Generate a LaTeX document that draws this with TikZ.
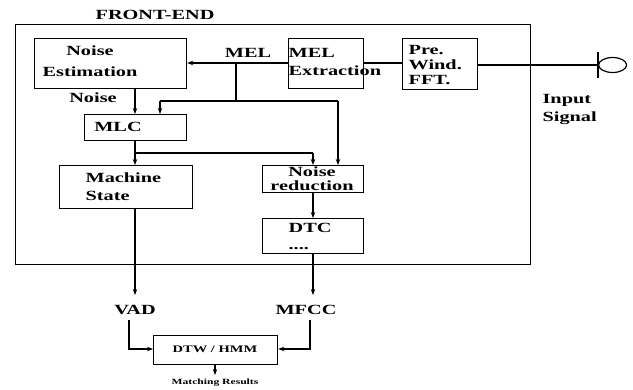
\documentclass[tikz,border=0pt]{standalone}
\usepackage{fontspec}
\setmainfont{Liberation Serif}[FakeStretch=1.45]
\usetikzlibrary{arrows.meta,shapes.geometric}
\begin{document}
\begin{tikzpicture}[x=1pt,y=-1pt,
  line width=1.2pt,
  box/.style={draw,line width=1.2pt,inner sep=0pt,anchor=north west},
  lbl/.style={inner sep=0pt,font=\bfseries\fontsize{14}{18}\selectfont},
  arr/.style={-{Stealth[length=6pt,width=4.5pt]}}]
\useasboundingbox (0,0) rectangle (633,390);
% frame
\node[box,minimum width=515pt,minimum height=240pt] (frame) at (15,24) {};
\node[lbl] (title) at (155,15) {FRONT-END};
% boxes
\node[box,minimum width=152pt,minimum height=50pt] (ne) at (34,38) {};
\node[lbl,align=center,font=\bfseries\fontsize{14}{21}\selectfont] (netext) at (90,61) {Noise\\Estimation};
\node[box,minimum width=75pt,minimum height=50pt] (mel) at (288,38) {};
\node[lbl,align=left,anchor=west] (meltext) at (288,62) {MEL\\Extraction};
\node[box,minimum width=75pt,minimum height=51pt] (pre) at (402,38) {};
\node[lbl,align=left,anchor=west,font=\bfseries\fontsize{14}{15}\selectfont] (pretext) at (408,65) {Pre.\\Wind.\\FFT.};
\node[box,minimum width=102pt,minimum height=26pt] (mlc) at (84,114) {};
\node[lbl] (mlctext) at (118,127) {MLC};
\node[box,minimum width=133pt,minimum height=43pt] (ms) at (59,165) {};
\node[lbl,align=left,anchor=west] (mstext) at (85,187) {Machine\\State};
\node[box,minimum width=101pt,minimum height=27pt] (nr) at (262,165) {};
\node[lbl,align=center,font=\bfseries\fontsize{14}{14}\selectfont] (nrtext) at (312,179) {Noise\\reduction};
\node[box,minimum width=101pt,minimum height=35pt] (dtc) at (262,218) {};
\node[lbl,align=left,anchor=west,font=\bfseries\fontsize{14}{17}\selectfont] (dtctext) at (288,236) {DTC\\....};
\node[box,minimum width=124pt,minimum height=29pt] (dtw) at (153,335) {};
\node[lbl,font=\bfseries\fontsize{10}{12}\selectfont] (dtwtext) at (215,349) {DTW / HMM};
% labels
\node[lbl] (mellbl) at (248,53) {MEL};
\node[lbl] (noiselbl) at (93,98) {Noise};
\node[lbl] (vad) at (135,310) {VAD};
\node[lbl] (mfcc) at (306,310) {MFCC};
\node[lbl,align=left,anchor=west] (input) at (542,109) {Input\\Signal};
\node[lbl,font=\bfseries\fontsize{8}{10}\selectfont] (match) at (215,383) {Matching Results};
% input symbol
\coordinate (tick) at (598,65);
\draw (tick) ++(0,-13) -- ++(0,26);
\node[draw,ellipse,minimum width=28pt,minimum height=15pt,inner sep=0pt,anchor=west] (sig) at (598,65) {};
\draw (pre.east |- tick) -- (sig.west);
\draw (mel.east |- 0,63) -- (pre.west |- 0,63);
% MEL to noise estimation
\coordinate (mj) at (236,63);
\draw[arr] (mel.west |- mj) -- (ne.east |- mj);
\coordinate (mb) at (236,101);
\draw (mj) -- (mb);
\coordinate (ml) at (160,101);
\coordinate (mr) at (338,101);
\draw (ml) -- (mr);
\draw[arr] (ml) -- (ml |- mlc.north);
\draw[arr] (mr) -- (mr |- nr.north);
% noise
\coordinate (nx) at (135,88);
\draw[arr] (nx) -- (nx |- mlc.north);
% MLC outputs
\coordinate (lo) at (135,140);
\coordinate (lb) at (135,153);
\coordinate (lbr) at (313,153);
\draw[arr] (lo) -- (lo |- ms.north);
\draw (lb) -- (lbr);
\draw[arr] (lbr) -- (lbr |- nr.north);
% NR to DTC
\coordinate (nrx) at (313,192);
\draw[arr] (nrx) -- (nrx |- dtc.north);
% outputs
\coordinate (msx) at (135,208);
\draw[arr] (msx) -- (135,295);
\coordinate (dtcx) at (313,253);
\draw[arr] (dtcx) -- (313,295);
% to DTW
\coordinate (va) at (129,320);
\draw[arr] (va) -- (129,349) -- (dtw.west |- 0,349);
\coordinate (mf) at (310,320);
\draw[arr] (mf) -- (310,349) -- (dtw.east |- 0,349);
\coordinate (dx) at (215,364);
\draw[arr] (dx) -- (215,375);
\end{tikzpicture}
\end{document}
